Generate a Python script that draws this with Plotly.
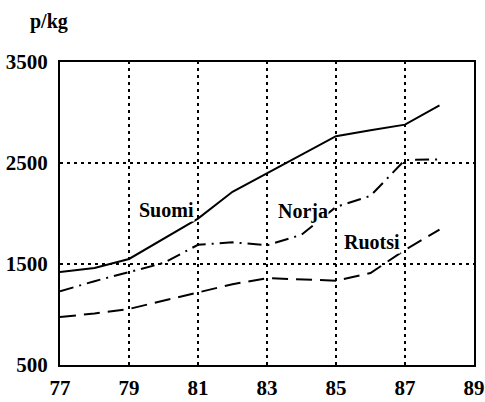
import plotly.graph_objects as go

years = [77, 78, 79, 80, 81, 82, 83, 84, 85, 86, 87, 88]
suomi = [1420, 1460, 1550, 1750, 1950, 2215, 2400, 2580, 2765, 2825, 2880, 3070]
norja = [1230, 1330, 1420, 1510, 1690, 1715, 1685, 1790, 2065, 2175, 2530, 2535]
ruotsi = [975, 1010, 1055, 1135, 1220, 1300, 1360, 1350, 1335, 1410, 1640, 1840]

x_ticks = [77, 79, 81, 83, 85, 87, 89]
y_ticks = [500, 1500, 2500, 3500]
grid_x = [79, 81, 83, 85, 87]
grid_y = [1500, 2500]

labels = ["Suomi", "Norja", "Ruotsi"]
label_x = [80.1, 84.05, 86.05]
label_y = [2030, 2020, 1720]

font_family = "Liberation Serif"

fig = go.Figure()
fig.add_trace(go.Scatter(x=years, y=suomi, mode="lines",
                         line=dict(color="black", width=2, dash="solid")))
fig.add_trace(go.Scatter(x=years, y=norja, mode="lines",
                         line=dict(color="black", width=2, dash="14px,6px,2px,6px")))
fig.add_trace(go.Scatter(x=years, y=ruotsi, mode="lines",
                         line=dict(color="black", width=2, dash="16px,8px")))

for gx in grid_x:
    fig.add_shape(type="line", x0=gx, x1=gx, y0=500, y1=3500, xref="x", yref="y",
                  line=dict(color="black", width=2, dash="3px,4px"), layer="below")
for gy in grid_y:
    fig.add_shape(type="line", x0=77, x1=89, y0=gy, y1=gy, xref="x", yref="y",
                  line=dict(color="black", width=2, dash="3px,4px"), layer="below")

for t, lx, ly in zip(labels, label_x, label_y):
    fig.add_annotation(x=lx, y=ly, text="<b>%s</b>" % t, showarrow=False,
                       font=dict(family=font_family, size=20, color="black"),
                       bgcolor="white", borderpad=0)

fig.add_annotation(x=-0.077, y=1.133, xref="paper", yref="paper", xanchor="left", yanchor="middle",
                   text="<b>p/kg</b>", showarrow=False,
                   font=dict(family=font_family, size=20, color="black"))

fig.update_layout(
    width=485, height=402,
    margin=dict(l=60, r=11, t=62, b=37, autoexpand=False),
    paper_bgcolor="white", plot_bgcolor="white",
    showlegend=False,
    font=dict(family=font_family, size=21, color="black"),
)
fig.update_xaxes(range=[77, 89], tickvals=x_ticks, ticktext=["<b>%d</b>" % v for v in x_ticks],
                 showgrid=False, zeroline=False, showline=True, linecolor="black", linewidth=2,
                 mirror=True, ticks="", ticklen=0, automargin=False, ticklabelstandoff=3)
fig.update_yaxes(range=[500, 3500], tickvals=y_ticks, ticktext=["<b>%d</b>" % v for v in y_ticks],
                 showgrid=False, zeroline=False, showline=True, linecolor="black", linewidth=2,
                 mirror=True, ticks="", ticklen=0, automargin=False, ticklabelstandoff=6)

fig.write_html("out.html", config={"displayModeBar": False},
               post_script="document.body.style.margin='0';")
